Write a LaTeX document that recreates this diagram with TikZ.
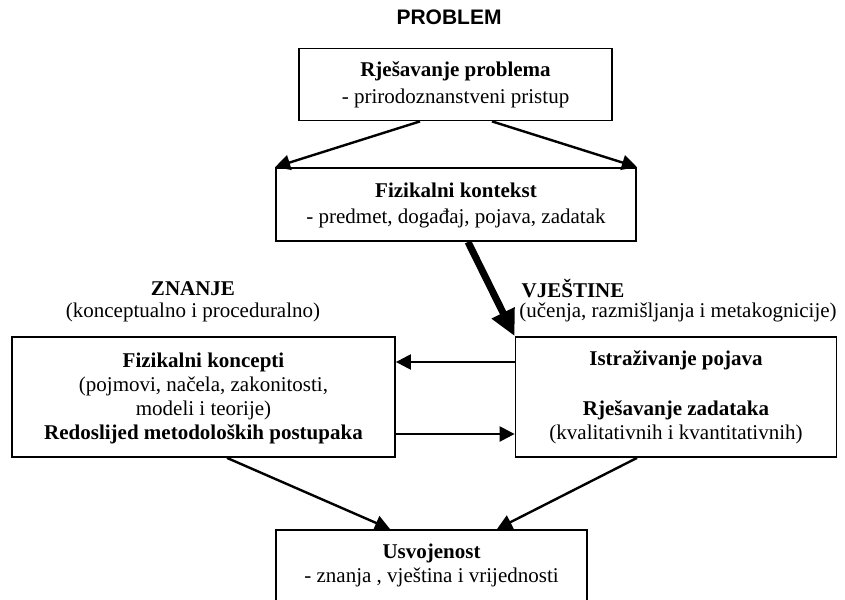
\documentclass[tikz,border=0pt]{standalone}
\usepackage{fontspec}
\setmainfont{Liberation Serif}
\newfontfamily\arialf{Liberation Sans}
\usetikzlibrary{arrows.meta}
\begin{document}
\begin{tikzpicture}[x=1pt,y=-1pt,
  boxnode/.style={draw, line width=1.8pt, inner sep=0pt},
  txt/.style={align=center, inner sep=0pt, font=\fontsize{21}{24}\selectfont},
  conn/.style={line width=2.4pt, -{Triangle[length=15pt,width=15pt]}},
  bigconn/.style={line width=7pt, -{Triangle[length=26pt,width=24pt]}}]
\useasboundingbox (0,0) rectangle (845,599);
\clip (0,0) rectangle (845,599);
% boxes
\node[boxnode, minimum width=313, minimum height=72] (b1) at (455.5,84.5) {};
\node[boxnode, minimum width=360, minimum height=73] (b2) at (456,204.5) {};
\node[boxnode, minimum width=383, minimum height=120] (b3) at (203.5,397) {};
\node[boxnode, minimum width=321, minimum height=120] (b4) at (676,397) {};
\node[boxnode, minimum width=311, minimum height=130, anchor=north] (b5) at (431.5,529) {};
% texts
\node[inner sep=0pt, font=\arialf\bfseries\fontsize{21}{24}\selectfont] (tp) at (449,17) {PROBLEM};
\node[txt] (t1) at (455.5,85) {\textbf{Rješavanje problema}\\[3pt]- prirodoznanstveni pristup};
\node[txt] (t2) at (456,205) {\textbf{Fizikalni kontekst}\\[2pt]- predmet, događaj, pojava, zadatak};
\node[txt] (tz) at (193,289) {\textbf{ZNANJE}};
\node[txt] (tz2) at (193,312) {(konceptualno i proceduralno)};
\node[txt] (tv) at (573,289) {\textbf{VJEŠTINE}};
\node[txt] (tv2) at (678,312) {(učenja, razmišljanja i metakognicije)};
\node[txt] (t3) at (203.5,398.5) {\textbf{Fizikalni koncepti}\\(pojmovi, načela, zakonitosti,\\modeli i teorije)\\\textbf{Redoslijed metodoloških postupaka}};
\node[txt] (t4) at (676,397.5) {\textbf{Istraživanje pojava}\\[26pt]\textbf{Rješavanje zadataka}\\(kvalitativnih i kvantitativnih)};
\node[txt] (t5) at (431.5,565) {\textbf{Usvojenost}\\- znanja , vještina i vrijednosti};
% connectors
\draw[conn] ([xshift=-35.5]b1.south) -- (b2.north west);
\draw[conn] ([xshift=36.5]b1.south) -- (b2.north east);
\draw[bigconn] ([xshift=12]b2.south) -- (b4.north west);
\draw[conn] ([yshift=35]b4.west) -- ([yshift=35]b3.east);
\draw[conn] ([yshift=-37]b3.east) -- ([yshift=-37]b4.west);
\draw[conn] ([xshift=23.5]b3.south) -- ([xshift=-41.5]b5.north);
\draw[conn] ([xshift=-39]b4.south) -- ([xshift=65.5]b5.north);
\end{tikzpicture}
\end{document}
